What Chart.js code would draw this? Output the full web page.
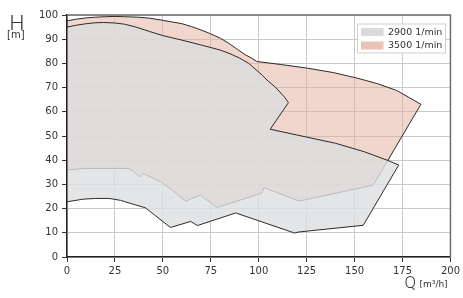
<!DOCTYPE html>
<html>
<head>
<meta charset="utf-8">
<script src="https://cdn.jsdelivr.net/npm/chart.js@4"></script>
<style>
  html, body { margin: 0; padding: 0; background: #fff; }
  #wrap { width: 463px; height: 298px; }
</style>
</head>
<body>
<div id="wrap"><canvas id="pump-range" width="463" height="298"></canvas></div>
<script>
// speeds shown in the legend
const speeds = ["2900 1/min", "3500 1/min"];

// operating range at 2900 1/min, outline traced clockwise (Q in m3/h, H in m)
const q2900 = [0, 5, 10, 15, 19, 25, 30, 36, 43, 50, 60, 70, 80, 85, 90, 94.6, 97, 99.7, 102, 105, 108.4, 111, 113.5, 115.5,
  106, 120, 140, 155, 167, 173,
  154.5, 120.5, 118.7, 88, 68, 64.5, 54, 48, 41, 34.5, 28, 22, 15, 8.4, 0, 0];
const h2900 = [95, 95.8, 96.4, 96.8, 96.9, 96.7, 96.2, 95, 93.2, 91.5, 89.6, 87.6, 85.5, 84, 82.2, 80.1, 78.5, 76.6, 75, 72.6, 70.4, 68.2, 66, 63.8,
  52.8, 50.4, 47, 43.5, 40, 38,
  13.1, 10.3, 9.9, 18.2, 13, 14.7, 12.2, 15.9, 20.3, 21.8, 23.4, 24.2, 24.2, 23.9, 22.8, 95];

// operating range at 3500 1/min
const q3500 = [0, 5, 10, 15, 20, 25, 30, 37, 43, 50, 60, 65, 70, 75, 80, 84.2, 88, 92.9, 96, 99,
  112, 125.6, 139, 151.4, 162, 172, 184.6,
  159.7, 121, 102.7, 101.5, 78.2, 69.6, 61.9, 55, 48.9, 39.6, 37.9, 34.4, 32.5, 30.8, 8.4, 0, 0];
const h3500 = [97.6, 98.3, 98.8, 99.1, 99.3, 99.4, 99.3, 99.1, 98.7, 97.8, 96.4, 95.2, 93.8, 92.2, 90.4, 88.4, 86.3, 83.6, 82.3, 80.8,
  79.5, 78, 76.2, 73.9, 71.6, 68.8, 63.1,
  29.7, 23.1, 28.7, 26.3, 20.5, 25.6, 23.1, 27.5, 31.1, 34.5, 33.1, 35.6, 36.4, 36.6, 36.6, 35.9, 97.6];

const fills = ["rgba(221,222,225,0.8)", "rgba(225,173,155,0.5)"];
const swatches = ["#d9dadc", "#e9c3b6"];

function toPoints(qs, hs) {
  return qs.map((q, i) => ({ x: q, y: hs[i] }));
}

const frame = {
  id: "frame",
  afterDraw(chart) {
    const ctx = chart.ctx;
    const a = chart.chartArea;
    ctx.save();
    // top and right frame
    ctx.strokeStyle = "#6f6f6f";
    ctx.lineWidth = 1.5;
    ctx.beginPath();
    ctx.moveTo(a.left, a.top);
    ctx.lineTo(a.right, a.top);
    ctx.lineTo(a.right, a.bottom);
    ctx.stroke();

    // legend
    const lx = 357, ly = 23.5, lw = 89, lh = 30;
    ctx.fillStyle = "#fff";
    ctx.fillRect(lx, ly, lw, lh);
    ctx.strokeStyle = "#cfcfcf";
    ctx.lineWidth = 1;
    ctx.strokeRect(lx + 0.5, ly + 0.5, lw - 1, lh - 1);
    ctx.font = "9.5px 'DejaVu Sans'";
    ctx.textBaseline = "middle";
    speeds.forEach((s, i) => {
      const y = ly + 4.5 + i * 13.5;
      ctx.fillStyle = swatches[i];
      ctx.fillRect(lx + 4, y, 22.5, 8);
      ctx.fillStyle = "#333";
      ctx.fillText(s, lx + 31, y + 4.5);
    });

    // axis titles
    ctx.fillStyle = "#333";
    ctx.textBaseline = "alphabetic";
    ctx.font = "300 21px Roboto, 'Noto Sans', sans-serif";
    ctx.fillText("H", 9.5, 30);
    ctx.font = "300 17px Roboto, 'Noto Sans', sans-serif";
    ctx.fillText("Q", 404.5, 288);
    ctx.font = "10px 'DejaVu Sans'";
    ctx.fillText("[m]", 7, 38);
    ctx.font = "9px 'DejaVu Sans'";
    ctx.fillText("[m\u00b3/h]", 419.5, 287);
    ctx.restore();
  }
};

const tickFont = { family: "DejaVu Sans", size: 10 };

new Chart(document.getElementById("pump-range"), {
  type: "line",
  data: {
    datasets: [
      {
        label: speeds[0],
        data: toPoints(q2900, h2900),
        backgroundColor: fills[0],
        borderColor: "#2b2b2b",
        borderWidth: 1,
        fill: "shape",
        pointRadius: 0,
        tension: 0
      },
      {
        label: speeds[1],
        data: toPoints(q3500, h3500),
        backgroundColor: fills[1],
        borderColor: "#2b2b2b",
        borderWidth: 1,
        fill: "shape",
        pointRadius: 0,
        tension: 0
      }
    ]
  },
  options: {
    responsive: false,
    animation: false,
    layout: { padding: { top: 15, right: 9, left: 0, bottom: 0 } },
    plugins: {
      legend: { display: false },
      tooltip: { enabled: false }
    },
    scales: {
      x: {
        type: "linear",
        min: 0,
        max: 200,
        z: 1,
        afterFit(s) { s.height = 41; },
        ticks: { stepSize: 25, font: tickFont, color: "#333", padding: 3 },
        grid: { color: "#cacaca", lineWidth: 1, tickColor: "#333", tickLength: 5 },
        border: { color: "#222", width: 1.5 }
      },
      y: {
        min: 0,
        max: 100,
        z: 1,
        afterFit(s) { s.width = 67; },
        ticks: { stepSize: 10, font: tickFont, color: "#333", padding: 4 },
        grid: { color: "#cacaca", lineWidth: 1, tickColor: "#333", tickLength: 5 },
        border: { color: "#222", width: 1.5 }
      }
    }
  },
  plugins: [frame]
});
</script>
</body>
</html>
